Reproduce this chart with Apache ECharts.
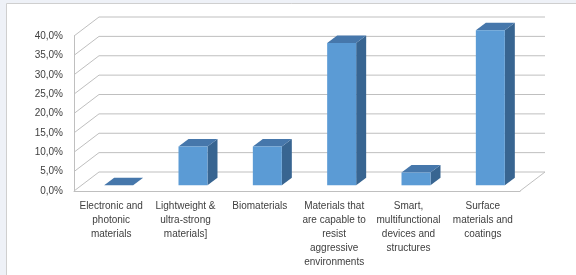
<!DOCTYPE html>
<html>
<head>
<meta charset="utf-8">
<script src="https://cdn.jsdelivr.net/npm/echarts@6/dist/echarts.min.js"></script>
<style>
  html, body { margin: 0; padding: 0; background: #eef1f7; }
  #main { width: 576px; height: 275px; }
</style>
</head>
<body>
<div id="main"></div>
<script>
// categories on the front axis
var categories = [
    'Electronic and\nphotonic\nmaterials',
    'Lightweight &\nultra-strong\nmaterials]',
    'Biomaterials',
    'Materials that\nare capable to\nresist\naggressive\nenvironments',
    'Smart,\nmultifunctional\ndevices and\nstructures',
    'Surface\nmaterials and\ncoatings'
];
// share per category, %
var shares = [0, 10, 10, 36.7, 3.3, 40];
// value axis ticks, %
var yTicks = [0, 5, 10, 15, 20, 25, 30, 35, 40];

// fake 3d depth (pixels)
var DX = 25, DY = -19;
var BAR_FRONT = 0.3, BAR_DEPTH = 0.4;
var GRID_COLOR = '#bfbfbf';

var chart = echarts.init(document.getElementById('main'));

var wallItem = function (params, api) {
    var cs = params.coordSys;
    var v = api.value(1);
    var y = api.coord([0, v])[1];
    var x0 = cs.x, x1 = cs.x + cs.width;
    var children = [{
        type: 'polyline',
        shape: { points: [[x0, y], [x0 + DX, y + DY], [x1 + DX, y + DY]] },
        style: { stroke: GRID_COLOR, lineWidth: 1, fill: null }
    }];
    if (v === 0) {
        children.push({
            type: 'line',
            shape: { x1: x1, y1: y, x2: x1 + DX, y2: y + DY },
            style: { stroke: GRID_COLOR, lineWidth: 1 }
        });
    }
    return { type: 'group', children: children };
};

var barItem = function (params, api) {
    var i = api.value(0), v = api.value(1);
    var base = api.coord([i, 0]);
    var top = api.coord([i, v]);
    var w = api.size([1, 0])[0] * 0.39;
    var fx = base[0] - w / 2 + DX * BAR_FRONT;
    var fyB = base[1] + DY * BAR_FRONT;
    var fyT = top[1] + DY * BAR_FRONT;
    var bx = DX * BAR_DEPTH, by = DY * BAR_DEPTH;
    return {
        type: 'group',
        children: [{
            type: 'polygon',
            shape: { points: [[fx + w, fyT], [fx + w + bx, fyT + by], [fx + w + bx, fyB + by], [fx + w, fyB]] },
            style: { fill: '#386591' }
        }, {
            type: 'polygon',
            shape: { points: [[fx, fyT], [fx + w, fyT], [fx + w + bx, fyT + by], [fx + bx, fyT + by]] },
            style: { fill: '#4677ab' }
        }, {
            type: 'rect',
            shape: { x: fx, y: fyT, width: w, height: fyB - fyT },
            style: { fill: '#5b9bd5' }
        }]
    };
};

chart.setOption({
    animation: false,
    backgroundColor: 'transparent',
    textStyle: { fontFamily: 'Liberation Sans' },
    graphic: [{
        type: 'rect',
        z: -10,
        shape: { x: 6.5, y: 3.5, width: 600, height: 300 },
        style: { fill: '#ffffff', stroke: '#cfcfcf', lineWidth: 1 }
    }],
    grid: { left: 74, right: 56, top: 36, bottom: 84 },
    xAxis: {
        type: 'category',
        data: categories,
        axisLine: { lineStyle: { color: GRID_COLOR } },
        axisTick: { length: 3, lineStyle: { color: GRID_COLOR } },
        axisLabel: {
            interval: 0,
            margin: 8,
            fontSize: 10,
            lineHeight: 14,
            color: '#404040'
        },
        splitLine: { show: false }
    },
    yAxis: {
        type: 'value',
        min: 0,
        max: 40,
        interval: 5,
        axisLine: { show: true, lineStyle: { color: GRID_COLOR } },
        axisTick: { show: false },
        splitLine: { show: false },
        axisLabel: {
            margin: 11,
            fontSize: 10,
            color: '#404040',
            formatter: function (v) { return v.toFixed(1).replace('.', ',') + '%'; }
        }
    },
    series: [{
        type: 'custom',
        z: 1,
        silent: true,
        renderItem: wallItem,
        encode: { x: 0, y: 1 },
        data: yTicks.map(function (t) { return [0, t]; })
    }, {
        type: 'custom',
        z: 3,
        renderItem: barItem,
        encode: { x: 0, y: 1 },
        data: shares.map(function (s, i) { return [i, s]; })
    }]
});
</script>
</body>
</html>
